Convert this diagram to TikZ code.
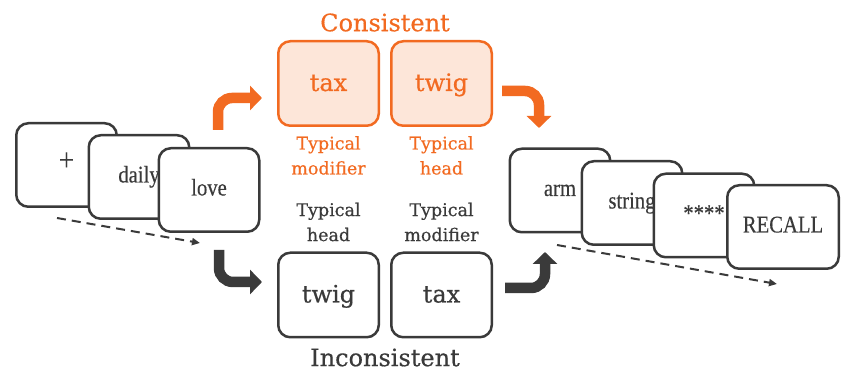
\documentclass[tikz,border=0pt]{standalone}
\usepackage{fontspec}
\setmainfont{Liberation Serif}
\newfontfamily\stackfont[FakeStretch=0.86,FakeBold=0.3]{Liberation Serif}
\newfontfamily\wordfont[FakeBold=0.5]{DejaVu Serif}
\usetikzlibrary{arrows.meta,positioning}
\definecolor{ink}{HTML}{3A3A3A}
\definecolor{accentorange}{HTML}{F26A21}
\definecolor{orangebg}{HTML}{FDE6D9}
\tikzset{
  card/.style={draw=ink,fill=white,line width=2.5pt,rounded corners=12pt,
               minimum width=100.5pt,minimum height=83.5pt,inner sep=0pt,
               text height=16pt,text depth=5pt,text=ink,
               font=\stackfont\fontsize{24}{28}\selectfont},
  wordbox/.style={card,minimum height=84.5pt,text height=19pt,text depth=4pt,
                  font=\wordfont\fontsize{24}{28}\selectfont},
  conbox/.style={wordbox,draw=accentorange,fill=orangebg,text=accentorange},
  tag/.style={align=center,inner sep=0pt,font=\wordfont\fontsize{17.5}{25}\selectfont},
  title/.style={inner sep=0pt,font=\wordfont\fontsize{24}{28}\selectfont},
  bigarr/.style={-{Triangle[length=12pt,width=24pt]},line width=10.5pt,rounded corners=14pt},
  timearr/.style={-{Triangle[length=8pt,width=7pt]},draw=ink,line width=2pt,
                  dash pattern=on 9pt off 6pt}
}

\begin{document}
\begin{tikzpicture}[x=1pt,y=-1pt]
  \useasboundingbox (0,0) rectangle (841,371);
  % words before the pair
  \foreach \w/\x/\y [count=\i] in {{\fontsize{32}{32}\selectfont+}/66.5/165,daily/139/177,love/209/190}
    \node[card] (pre\i) at (\x,\y) {\w};
  \coordinate (pres) at (57,218);
  \coordinate (pree) at (200,243);
  \draw[timearr] (pres) -- (pree);

  % consistent pair
  \node[title,text=accentorange] (contitle) at (385,22.5) {Consistent};
  \node[conbox] (ctax) at (328.5,83.5) {tax};
  \node[conbox] (ctwig) at (441.5,83.5) {twig};
  \node[tag,text=accentorange,below=9pt of ctax] (ctaxlab) {Typical\\modifier};
  \node[tag,text=accentorange,below=9pt of ctwig] (ctwiglab) {Typical\\head};

  % inconsistent pair
  \node[wordbox] (itwig) at (328.5,295) {twig};
  \node[wordbox] (itax) at (441.5,295) {tax};
  \node[tag,text=ink,above=10pt of itwig] (itwiglab) {Typical\\head};
  \node[tag,text=ink,above=10pt of itax] (itaxlab) {Typical\\modifier};
  \node[title,text=ink] (incontitle) at (385,357.5) {Inconsistent};

  % bent arrows
  \coordinate (cin1) at (218,130);
  \coordinate (cin2) at (262,98);
  \coordinate (cout1) at (502,91);
  \coordinate (cout2) at (539,128);
  \coordinate (iin1) at (219,250);
  \coordinate (iin2) at (262,282);
  \coordinate (iout1) at (505,288);
  \coordinate (iout2) at (545,252);
  \draw[bigarr,accentorange] (cin1) |- (cin2);
  \draw[bigarr,accentorange] (cout1) -| (cout2);
  \draw[bigarr,ink] (iin1) |- (iin2);
  \draw[bigarr,ink] (iout1) -| (iout2);

  % words after the pair
  \foreach \w/\x/\y [count=\i] in {arm/560/190.5,string/632/203,****/704/215.5}
    \node[card] (post\i) at (\x,\y) {\w};
  \node[card,minimum width=111.5pt] (recall) at (783,227) {RECALL};
  \coordinate (posts) at (557,245);
  \coordinate (poste) at (777,284);
  \draw[timearr] (posts) -- (poste);
\end{tikzpicture}
\end{document}
